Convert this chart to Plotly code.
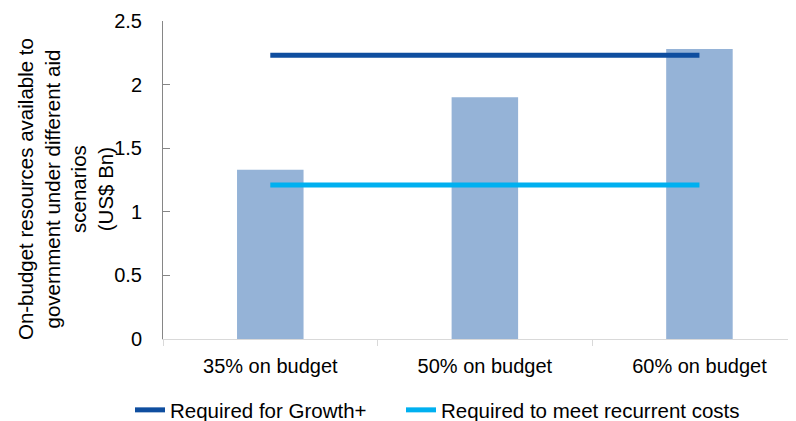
import plotly.graph_objects as go

categories = ["35% on budget", "50% on budget", "60% on budget"]
on_budget = [1.33, 1.90, 2.28]
growth_plus = [2.23, 2.23, 2.23]
recurrent = [1.21, 1.21, 1.21]
y_ticks = [0, 0.5, 1, 1.5, 2, 2.5]
y_tick_text = ["0", "0.5", "1", "1.5", "2", "2.5"]
y_title = "On-budget resources available to<br>government under different aid<br>scenarios<br>(US$ Bn)"

FONT = "Liberation Sans, Arial, sans-serif"
W, H = 788, 413  # page body adds an 8px offset

fig = go.Figure()
fig.add_trace(go.Bar(x=categories, y=on_budget, marker=dict(color="#95B3D7", line=dict(width=0)),
                     showlegend=False, name="On-budget"))
fig.add_trace(go.Scatter(x=categories, y=growth_plus, mode="lines",
                         line=dict(color="#0F4E9F", width=5), name="Required for Growth+",
                         legend="legend"))
fig.add_trace(go.Scatter(x=categories, y=recurrent, mode="lines",
                         line=dict(color="#00B0F0", width=5), name="Required to meet recurrent costs",
                         legend="legend2"))

legend_common = dict(orientation="h", xref="container", yref="container",
                     xanchor="left", y=0.075, yanchor="top",
                     font=dict(size=20.5), itemwidth=30, bgcolor="rgba(0,0,0,0)")

fig.update_layout(
    width=W, height=H,
    margin=dict(l=155, r=0, t=13, b=82),
    paper_bgcolor="white", plot_bgcolor="white",
    font=dict(family=FONT, size=20, color="#000000"),
    bargap=0.69,
    showlegend=True,
    legend=dict(x=122 / W, **legend_common),
    legend2=dict(x=393 / W, **legend_common),
    xaxis=dict(type="category", range=[-0.5, 2.45], showline=True, linecolor="#D9D9D9", linewidth=1,
               ticks="outside", tickson="boundaries", ticklen=6, tickcolor="#D9D9D9",
               showgrid=False, zeroline=False, tickfont=dict(size=20), ticklabelstandoff=9),
    yaxis=dict(range=[0, 2.5], tickvals=y_ticks, ticktext=y_tick_text, showline=True,
               linecolor="#868686", linewidth=1, ticks="inside", ticklen=7, tickcolor="#868686",
               showgrid=False, zeroline=False, tickfont=dict(size=20), ticklabelstandoff=16),
    annotations=[dict(text=y_title, textangle=-90, xref="paper", yref="paper",
                      x=-0.154, y=0.47, xanchor="center", yanchor="middle", showarrow=False,
                      font=dict(size=20.5, family=FONT, color="#000000"))],
)

fig.write_html("out.html")
